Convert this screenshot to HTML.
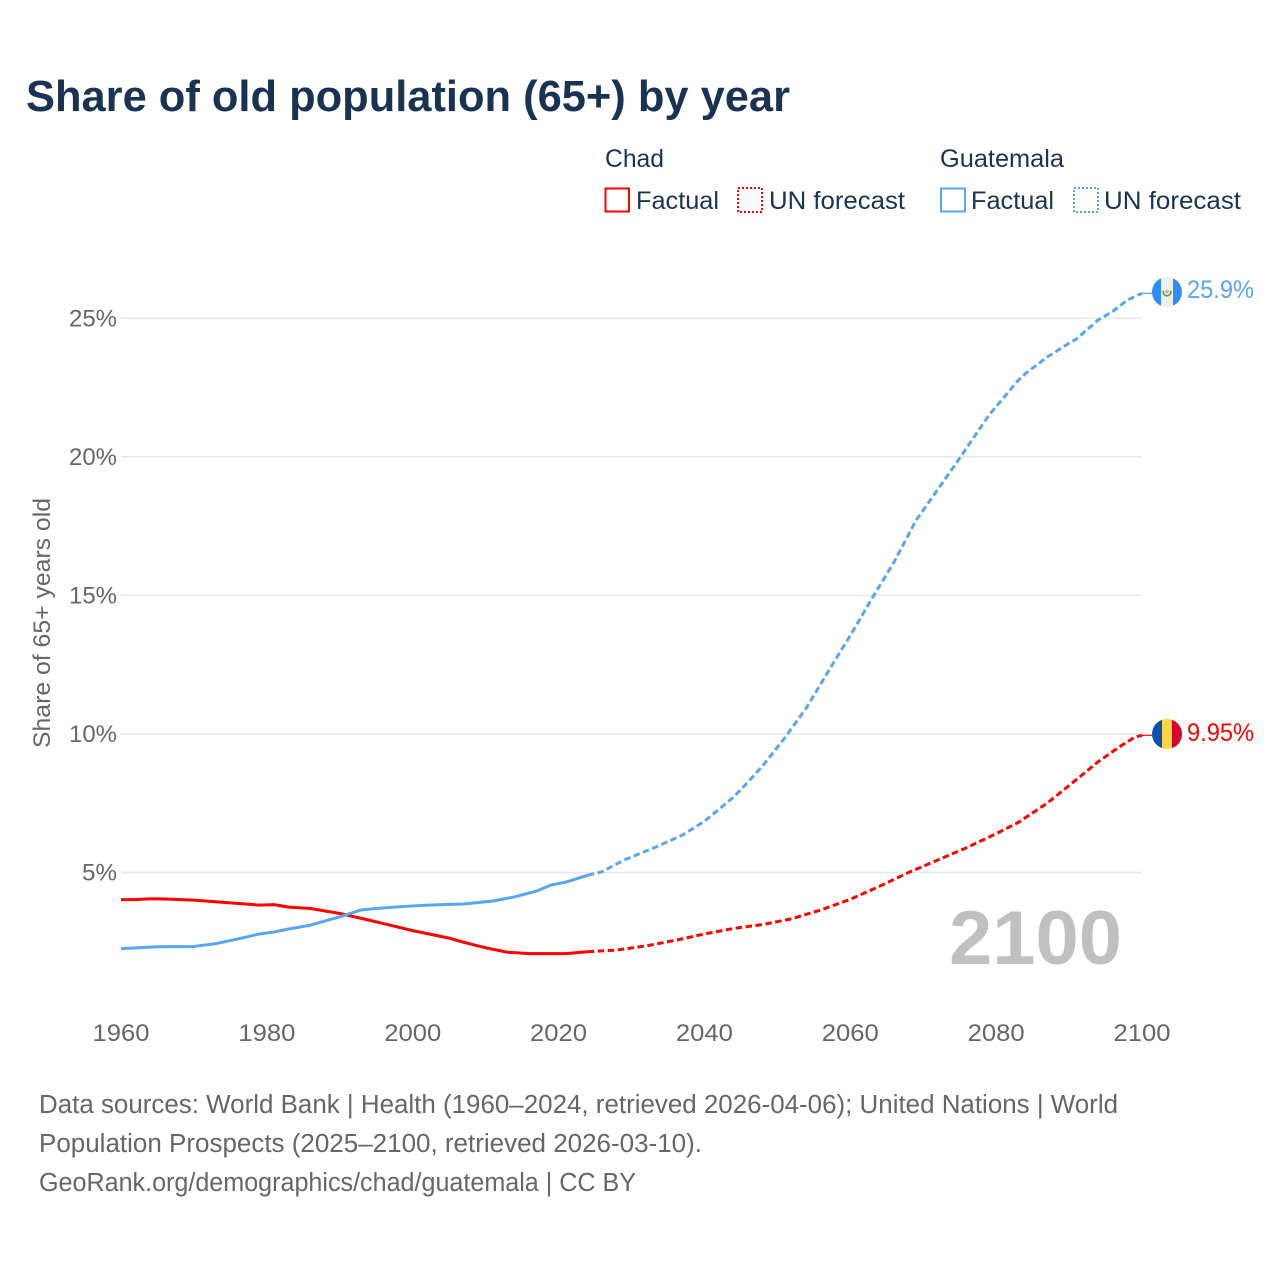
<!DOCTYPE html>
<html lang="en">
<head>
<meta charset="utf-8">
<title>Share of old population (65+) by year</title>
<style>
html,body{margin:0;padding:0;background:#fff;}
svg{display:block;}
text{font-family:"Liberation Sans",sans-serif;}
</style>
</head>
<body>
<svg id="chart" xmlns="http://www.w3.org/2000/svg" width="1280" height="1280" viewBox="0 0 1280 1280">
  <rect x="0" y="0" width="1280" height="1280" fill="#ffffff"/>
  <text x="26" y="111" font-size="44" font-weight="700" fill="#1a3352" textLength="764" lengthAdjust="spacingAndGlyphs">Share of old population (65+) by year</text>

  <g font-size="25" fill="#1a3352">
    <text x="605" y="167" textLength="59" lengthAdjust="spacingAndGlyphs">Chad</text>
    <rect x="605.500" y="188.500" width="23.500" height="23" fill="none" stroke="#ff0000" stroke-width="2"/>
    <text x="636" y="209" textLength="83" lengthAdjust="spacingAndGlyphs">Factual</text>
    <rect x="738" y="188" width="24" height="24" fill="none" stroke="#ff0000" stroke-width="2" stroke-dasharray="2 2" shape-rendering="crispEdges"/>
    <text x="769" y="209" textLength="136" lengthAdjust="spacingAndGlyphs">UN forecast</text>
    <text x="940" y="167" textLength="124" lengthAdjust="spacingAndGlyphs">Guatemala</text>
    <rect x="941" y="188.500" width="24" height="23" fill="none" stroke="#5aa5f0" stroke-width="2"/>
    <text x="971" y="209" textLength="83" lengthAdjust="spacingAndGlyphs">Factual</text>
    <rect x="1074" y="188" width="24" height="24" fill="none" stroke="#5aa5f0" stroke-width="2" stroke-dasharray="2 2" shape-rendering="crispEdges"/>
    <text x="1104" y="209" textLength="137" lengthAdjust="spacingAndGlyphs">UN forecast</text>
  </g>

  <g id="grid"></g>
  <g id="y-axis"></g>
  <g id="x-axis"></g>
  <text transform="translate(50,748) rotate(-90)" font-size="24" fill="#666666" textLength="250" lengthAdjust="spacingAndGlyphs">Share of 65+ years old</text>

  <text x="949" y="964" font-size="76" font-weight="700" fill="#c0c0c0" textLength="173" lengthAdjust="spacingAndGlyphs">2100</text>

  <g id="series"></g>

  <defs>
    <clipPath id="flag-clip-gt"><circle cx="1167" cy="292" r="15"/></clipPath>
    <clipPath id="flag-clip-td"><circle cx="1167" cy="734" r="15"/></clipPath>
  </defs>
  <g clip-path="url(#flag-clip-gt)">
    <rect x="1152" y="277" width="9" height="30" fill="#2f8df5"/>
    <rect x="1161" y="277" width="12" height="30" fill="#eeeeee"/>
    <rect x="1173" y="277" width="9" height="30" fill="#2f8df5"/>
    <path d="M1163.500 290.500 A3.800 3.800 0 1 0 1170.500 290.500" fill="none" stroke="#6f9a3c" stroke-width="1.600"/>
    <circle cx="1167" cy="291.500" r="1.800" fill="#b9b9a8"/>
  </g>
  <g clip-path="url(#flag-clip-td)">
    <rect x="1152" y="719" width="10" height="30" fill="#0a50b4"/>
    <rect x="1162" y="719" width="10" height="30" fill="#ffd540"/>
    <rect x="1172" y="719" width="10" height="30" fill="#d9002e"/>
  </g>
  <text x="1187" y="298" font-size="25" fill="#5aa5f0" textLength="67" lengthAdjust="spacingAndGlyphs">25.9%</text>
  <text x="1187" y="741" font-size="25" fill="#ff0000" textLength="67" lengthAdjust="spacingAndGlyphs">9.95%</text>

  <g font-size="25.500" fill="#666666">
    <text x="39" y="1113" textLength="1079" lengthAdjust="spacingAndGlyphs">Data sources: World Bank | Health (1960–2024, retrieved 2026-04-06); United Nations | World</text>
    <text x="39" y="1152" textLength="663" lengthAdjust="spacingAndGlyphs">Population Prospects (2025–2100, retrieved 2026-03-10).</text>
    <text x="39" y="1191" textLength="597" lengthAdjust="spacingAndGlyphs">GeoRank.org/demographics/chad/guatemala | CC BY</text>
  </g>
</svg>
<script>
const xTickYears = [1960, 1980, 2000, 2020, 2040, 2060, 2080, 2100];
const yTickValues = [5, 10, 15, 20, 25];

const chadFactualYears = [1960, 1962, 1964, 1966, 1970, 1975, 1979, 1981, 1983, 1986, 1990, 1994, 2000, 2005, 2007, 2010, 2013, 2016, 2021, 2024];
const chadFactualValues = [4.02, 4.02, 4.05, 4.04, 4.00, 3.90, 3.82, 3.84, 3.75, 3.70, 3.52, 3.28, 2.90, 2.63, 2.48, 2.28, 2.12, 2.07, 2.07, 2.14];

const chadForecastYears = [2024, 2028, 2032, 2036, 2040, 2044, 2048, 2052, 2056, 2060, 2064, 2068, 2072, 2076, 2080, 2083, 2087, 2091, 2094, 2097, 2099, 2100];
const chadForecastValues = [2.14, 2.20, 2.35, 2.55, 2.78, 2.98, 3.12, 3.33, 3.65, 4.03, 4.50, 5.00, 5.45, 5.90, 6.40, 6.80, 7.50, 8.35, 9.00, 9.55, 9.88, 9.95];

const guatemalaFactualYears = [1960, 1965, 1970, 1973, 1976, 1979, 1981, 1983, 1986, 1990, 1993, 1995, 1998, 2002, 2007, 2011, 2014, 2017, 2019, 2021, 2024];
const guatemalaFactualValues = [2.25, 2.32, 2.33, 2.43, 2.60, 2.78, 2.85, 2.96, 3.10, 3.40, 3.65, 3.70, 3.76, 3.82, 3.86, 3.97, 4.12, 4.33, 4.55, 4.65, 4.90];

const guatemalaForecastYears = [2024, 2026, 2029, 2033, 2037, 2040, 2042, 2044, 2046, 2048, 2051, 2054, 2058, 2060, 2063, 2066, 2069, 2071, 2075, 2079, 2083, 2084, 2087, 2090, 2091, 2094, 2096, 2098, 2100];
const guatemalaForecastValues = [4.90, 5.03, 5.45, 5.88, 6.35, 6.85, 7.28, 7.72, 8.27, 8.85, 9.85, 10.95, 12.70, 13.55, 14.90, 16.20, 17.70, 18.45, 19.95, 21.50, 22.75, 23.00, 23.60, 24.10, 24.25, 24.94, 25.25, 25.66, 25.90];

const NS = 'http://www.w3.org/2000/svg';
function xScale(year) { return 121 + (year - 1960) * (1142 - 121) / 140; }
function yScale(value) { return 1011 - value * 27.71; }
function make(tag, attrs, parent) {
  const el = document.createElementNS(NS, tag);
  for (const k in attrs) el.setAttribute(k, attrs[k]);
  parent.appendChild(el);
  return el;
}
function pathFor(years, values) {
  return years.map((y, i) => (i ? 'L' : 'M') + xScale(y).toFixed(2) + ' ' + yScale(values[i]).toFixed(2)).join(' ');
}

const grid = document.getElementById('grid');
const yAxis = document.getElementById('y-axis');
const xAxis = document.getElementById('x-axis');
const series = document.getElementById('series');

yTickValues.forEach(v => {
  const line = make('line', { x1: 121, x2: 1142, y1: yScale(v), y2: yScale(v), stroke: '#e8e8e8', 'stroke-width': 1.5 }, grid);
  
  
  const label = make('text', { x: 69, y: yScale(v) + 8, 'font-size': 24, fill: '#666666', textLength: v === 5 ? 35 : 48, lengthAdjust: 'spacingAndGlyphs' }, yAxis);
  if (v === 5) label.setAttribute('x', 82);
  label.textContent = v + '%';
  
  
});

xTickYears.forEach(year => {
  const label = make('text', { x: xScale(year) - 28.5, y: 1041, 'font-size': 24, fill: '#666666', textLength: 57, lengthAdjust: 'spacingAndGlyphs' }, xAxis);
  label.textContent = year;
  
  
});

const chadFactualLine = make('path', { d: pathFor(chadFactualYears, chadFactualValues), fill: 'none', stroke: '#ff0000', 'stroke-width': 3, 'stroke-linejoin': 'round' }, series);



const chadForecastLine = make('path', { d: pathFor(chadForecastYears, chadForecastValues), fill: 'none', stroke: '#ff0000', 'stroke-width': 3, 'stroke-dasharray': '6.5 3.5', 'stroke-linejoin': 'round' }, series);



const guatemalaFactualLine = make('path', { d: pathFor(guatemalaFactualYears, guatemalaFactualValues), fill: 'none', stroke: '#5aa5f0', 'stroke-width': 3, 'stroke-linejoin': 'round' }, series);



const guatemalaForecastLine = make('path', { d: pathFor(guatemalaForecastYears, guatemalaForecastValues), fill: 'none', stroke: '#5aa5f0', 'stroke-width': 3, 'stroke-dasharray': '6.5 3.5', 'stroke-linejoin': 'round' }, series);



const chadLast = chadForecastValues[chadForecastValues.length - 1];
const chadConnector = make('line', { x1: xScale(2100), x2: 1152, y1: yScale(chadLast), y2: yScale(chadLast), stroke: '#ff0000', 'stroke-width': 1.2 }, series);



const guatemalaLast = guatemalaForecastValues[guatemalaForecastValues.length - 1];
const guatemalaConnector = make('line', { x1: xScale(2100), x2: 1152, y1: yScale(guatemalaLast), y2: yScale(guatemalaLast), stroke: '#5aa5f0', 'stroke-width': 1.2 }, series);


</script>
</body>
</html>
